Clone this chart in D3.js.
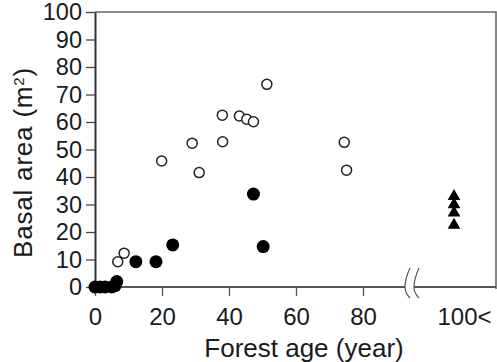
<!DOCTYPE html>
<html>
<head>
<meta charset="utf-8">
<script src="https://cdn.jsdelivr.net/npm/d3@7"></script>
<style>
body { margin: 0; background: #fff; }
text { font-family: "Liberation Sans", Arial, Helvetica, sans-serif; fill: #1a1a1a; }
</style>
</head>
<body>
<div id="vis"></div>
<script>
// young forests, open circles
const openAge   = [6.8, 8.7, 19.9, 29.0, 31.1, 38.0, 38.1, 43.1, 45.3, 47.3, 51.3, 74.4, 75.1];
const openBasal = [9.2, 12.3, 45.8, 52.3, 41.6, 62.5, 52.8, 62.2, 61.0, 60.1, 73.7, 52.6, 42.5];
// filled circles
const filledAge   = [0, 1.5, 3, 5, 6, 6.5, 12.2, 18.2, 23.2, 47.3, 50.2];
const filledBasal = [0, 0, 0, 0, 0.5, 2, 9.2, 9.2, 15.3, 33.8, 14.7];
// old forests (100< years), triangles
const oldLabel = "100<";
const oldBasal = [33, 30, 27, 22.5];

const xTicks = [0, 20, 40, 60, 80];
const yTicks = [0, 10, 20, 30, 40, 50, 60, 70, 80, 90, 100];

const margin = {top: 12, right: 1, bottom: 75, left: 95};
const width = 497 - margin.left - margin.right;
const height = 362 - margin.top - margin.bottom;

const svg = d3.select('#vis')
	.append('svg')
		.attr('width', 497)
		.attr('height', 362)
	.append('g')
		.attr('transform', `translate(${margin.left},${margin.top})`);

const x = d3.scaleLinear().domain([0, 80]).range([0, 268]);
const breakL = 310, breakR = 319;
const xOld = d3.scalePoint().domain([oldLabel]).range([317, width]).padding(0.5);
const y = d3.scaleLinear().domain([0, 100]).range([height, 0]);

// frame top + right
svg.append('path')
	.attr('d', `M0,0H${width}V${height + 2}`)
	.attr('fill', 'none')
	.attr('stroke', '#666')
	.attr('stroke-width', 1.6);

// y axis
const gy = svg.append('g')
	.call(d3.axisLeft(y).tickValues(yTicks).tickSize(9).tickSizeOuter(0).tickPadding(4));
gy.select('.domain').attr('stroke', '#333').attr('stroke-width', 2);
gy.selectAll('.tick line').attr('stroke', '#444').attr('stroke-width', 1.3);
gy.selectAll('text').style('font-size', '23.5px').attr('fill', '#1a1a1a');

// x axis (broken)
const gx = svg.append('g')
	.attr('transform', `translate(0,${height})`)
	.call(d3.axisBottom(x).tickValues(xTicks).tickSize(9).tickPadding(12));
gx.select('.domain').remove();
gx.selectAll('.tick line').attr('stroke', '#555').attr('stroke-width', 1.3);
gx.selectAll('text').style('font-size', '24px').attr('fill', '#1a1a1a');

const gx2 = svg.append('g')
	.attr('transform', `translate(0,${height})`)
	.call(d3.axisBottom(xOld).tickSize(0).tickPadding(21));
gx2.select('.domain').remove();
gx2.selectAll('text').style('font-size', '24px').attr('dx', 10).attr('fill', '#1a1a1a');

svg.append('path')
	.attr('d', `M0,${height}H${breakL}M${breakR},${height}H${width}`)
	.attr('stroke', '#555')
	.attr('stroke-width', 2);

// break marks
[breakL, breakR].forEach(b => {
	svg.append('path')
		.attr('d', `M${b + 5},${height - 19}Q${b},${height - 8} ${b},${height}Q${b},${height + 6} ${b + 5},${height + 11}`)
		.attr('fill', 'none')
		.attr('stroke', '#555')
		.attr('stroke-width', 1.2);
});

// points
svg.selectAll('.open')
	.data(openAge)
	.join('circle')
		.attr('class', 'open')
		.attr('cx', d => x(d))
		.attr('cy', (d, i) => y(openBasal[i]))
		.attr('r', 5)
		.attr('fill', '#fff')
		.attr('stroke', '#222')
		.attr('stroke-width', 1.5);

svg.selectAll('.filled')
	.data(filledAge)
	.join('circle')
		.attr('class', 'filled')
		.attr('cx', d => x(d))
		.attr('cy', (d, i) => y(filledBasal[i]))
		.attr('r', 6.5)
		.attr('fill', '#000');

svg.selectAll('.old')
	.data(oldBasal)
	.join('path')
		.attr('class', 'old')
		.attr('d', d3.symbol(d3.symbolTriangle, 70))
		.attr('transform', d => `translate(${xOld(oldLabel)},${y(d)})`)
		.attr('fill', '#000');

// titles
svg.append('text')
	.attr('x', 209)
	.attr('y', height + 70)
	.attr('text-anchor', 'middle')
	.style('font-size', '26px')
	.text('Forest age (year)');

const yt = svg.append('text')
	.attr('transform', `translate(${31.5 - margin.left},${162.5 - margin.top}) rotate(-90)`)
	.attr('text-anchor', 'middle')
	.style('font-size', '26px')
	.style('letter-spacing', '0.8px');
yt.append('tspan').text('Basal area (m');
yt.append('tspan').attr('baseline-shift', 'super').style('font-size', '15px').text('2');
yt.append('tspan').text(')');
</script>
</body>
</html>
